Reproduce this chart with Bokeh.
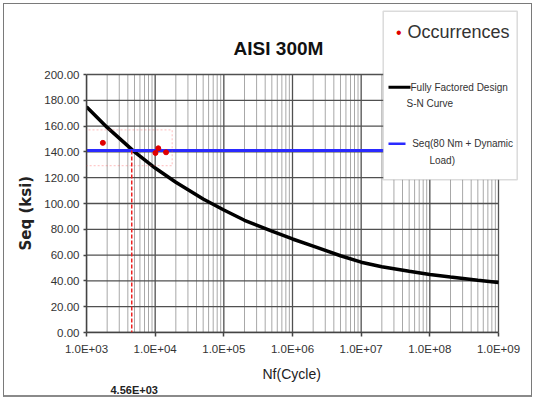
import math
from bokeh.plotting import figure
from bokeh.models import Range1d, FixedTicker, Label, Arrow, BoxAnnotation, Title
from bokeh.embed import file_html
from bokeh.resources import INLINE

# ---------------- data ----------------
sn_cycles = [1e3, 2e3, 5e3, 1e4, 2e4, 5e4, 1e5, 2e5, 5e5, 1e6, 2e6, 5e6,
             1e7, 2e7, 5e7, 1e8, 2e8, 5e8, 1e9]
sn_stress = [175, 159, 140, 127.5, 116.5, 103.5, 95, 87, 78.5, 72.5, 67, 59.5,
             54.5, 51, 47.5, 45, 43, 40.5, 38.7]
seq_cycles = [1e3, 1e9]
seq_stress = [141, 141]
occ_cycles = [1.73e3, 1.01e4, 1.11e4, 1.44e4]
occ_stress = [147, 139.2, 142.8, 139.7]
n_intersect = 4.56e3
n_intersect_label = "4.56E+03"
box_cycles = [935, 1.77e4]
box_stress = [129.3, 157]
x_ticks = [1e3, 1e4, 1e5, 1e6, 1e7, 1e8, 1e9]
x_tick_labels = ["1.0E+03", "1.0E+04", "1.0E+05", "1.0E+06", "1.0E+07", "1.0E+08", "1.0E+09"]
y_ticks = [0, 20, 40, 60, 80, 100, 120, 140, 160, 180, 200]
y_tick_labels = ["0.00", "20.00", "40.00", "60.00", "80.00", "100.00", "120.00",
                 "140.00", "160.00", "180.00", "200.00"]
x_minor = [m * 10 ** e for e in range(3, 9) for m in range(2, 10)]

FONT = "Liberation Sans"

# layout (canvas pixels): data area 412 x 258, frame extends above/right for title & legend
W, H = 529, 394
FL, FR, FT, FB = 82, 523, 2, 328          # frame edges in canvas px
DATA_RIGHT, DATA_TOP = 494, 70            # where 1e9 and 200 fall
dec_px = (DATA_RIGHT - FL) / 6.0
unit_px = (FB - DATA_TOP) / 200.0
x_end = x_ticks[-1] * 10 ** ((FR - DATA_RIGHT) / dec_px)
y_end = y_ticks[-1] + (DATA_TOP - FT) / unit_px

p = figure(width=W, height=H, x_axis_type="log",
           x_range=Range1d(x_ticks[0], x_end), y_range=Range1d(y_ticks[0], y_end),
           output_backend="svg", toolbar_location=None,
           min_border_left=FL, min_border_right=W - FR, min_border_top=FT,
           min_border_bottom=H - FB,
           background_fill_color="white", border_fill_color="white",
           outline_line_color=None,
           styles={"margin": "3px 3px 0px 3px", "border": "1px solid #7a7a7a",
                   "border-bottom": "2px solid #8a8a8a"})

# axes
p.xaxis.ticker = FixedTicker(ticks=x_ticks)
p.xaxis.major_label_overrides = {t: l for t, l in zip(x_ticks, x_tick_labels)}
p.yaxis.ticker = FixedTicker(ticks=y_ticks)
p.yaxis.major_label_overrides = {t: l for t, l in zip(y_ticks, y_tick_labels)}
p.xaxis.bounds = (x_ticks[0], x_ticks[-1])
p.yaxis.bounds = (y_ticks[0], y_ticks[-1])
for ax in (p.xaxis[0], p.yaxis[0]):
    ax.axis_line_color = "#444444"
    ax.axis_line_width = 1.5
    ax.major_tick_line_color = "#444444"
    ax.major_tick_line_width = 1.5
    ax.major_tick_in = 0
    ax.minor_tick_line_color = None
    ax.major_label_text_font = FONT
    ax.major_label_text_font_size = "11.5px"
    ax.major_label_text_color = "#333333"
p.xaxis.major_tick_out = 4
p.yaxis.major_tick_out = 3
p.xaxis.major_label_standoff = 6
p.yaxis.major_label_standoff = 4

# axis titles as side-panel titles (so they can be positioned like the original)
p.add_layout(Title(text="Seq (ksi)", align="left", offset=82, standoff=14,
                   text_font="DejaVu Sans", text_font_size="15px",
                   text_font_style="bold", text_color="#222222"), "left")
p.add_layout(Title(text="Nf(Cycle)", align="left", offset=176, standoff=12,
                   text_font=FONT, text_font_size="14px", text_font_style="normal",
                   text_color="#222222"), "below")
p.add_layout(Title(text=n_intersect_label, align="left", offset=24, standoff=-8,
                   vertical_align="top",
                   text_font=FONT, text_font_size="11px", text_font_style="bold",
                   text_color="#222222"), "below")

p.xgrid.visible = False
p.ygrid.visible = False

# grid lines drawn on the data area only
p.segment(x0=x_minor, x1=x_minor, y0=[y_ticks[0]] * len(x_minor), y1=[y_ticks[-1]] * len(x_minor),
          line_color="#a8a8a8", line_width=1)
p.segment(x0=x_ticks, x1=x_ticks, y0=[y_ticks[0]] * len(x_ticks), y1=[y_ticks[-1]] * len(x_ticks),
          line_color="#505050", line_width=1.3)
p.segment(x0=[x_ticks[0]] * len(y_ticks), x1=[x_ticks[-1]] * len(y_ticks), y0=y_ticks, y1=y_ticks,
          line_color="#505050", line_width=1.3)

# data glyphs
p.line(sn_cycles, sn_stress, line_color="black", line_width=3.5)
p.line(seq_cycles, seq_stress, line_color="#2a2aff", line_width=3)
p.scatter(occ_cycles, occ_stress, size=5, color="#e00000")

p.add_layout(BoxAnnotation(left=box_cycles[0], right=box_cycles[1],
                           bottom=box_stress[0], top=box_stress[1],
                           fill_alpha=0, line_color="#ff5050", line_dash="2 2",
                           line_width=1.2))
p.add_layout(Arrow(end=None, x_start=n_intersect, y_start=seq_stress[0],
                   x_end=n_intersect, y_end=y_ticks[0],
                   line_color="#ee2222", line_width=1.5, line_dash="4 2"))


# ---------- texts and legend (screen units, relative to frame bottom-left) ----------
def lab(text, x, y, size, font=FONT, style="normal", color="#333333", align="left"):
    p.add_layout(Label(x=x, y=y, x_units="screen", y_units="screen", text=text,
                       text_font=font, text_font_size=size, text_font_style=style,
                       text_color=color, text_align=align, text_baseline="middle"))


lab("AISI 300M", 192, 284, "19px", style="bold", color="#111111", align="center")

p.add_layout(BoxAnnotation(left=296.7, right=430.7, bottom=152.7, top=321.3,
                           left_units="screen", right_units="screen",
                           bottom_units="screen", top_units="screen",
                           fill_color="white", fill_alpha=1,
                           line_color="#888888", line_width=1.5))
lab("\u2022", 312.3, 300.3, "16px", color="#e00000", align="center")
lab("Occurrences", 321, 300.3, "18px")
p.add_layout(Arrow(end=None, x_start=302, y_start=245.3, x_end=324, y_end=245.3,
                   start_units="screen", end_units="screen",
                   line_color="black", line_width=3))
lab("Fully Factored Design", 324, 245.3, "10px")
lab("S-N Curve", 320, 229, "10px")
p.add_layout(Arrow(end=None, x_start=302, y_start=188.7, x_end=319, y_end=188.7,
                   start_units="screen", end_units="screen",
                   line_color="#2a2aff", line_width=2.5))
lab("Seq(80 Nm + Dynamic", 325.7, 189, "10px")
lab("Load)", 355.7, 172, "10px", align="center")

open("out.html", "w").write(file_html(p, INLINE))
